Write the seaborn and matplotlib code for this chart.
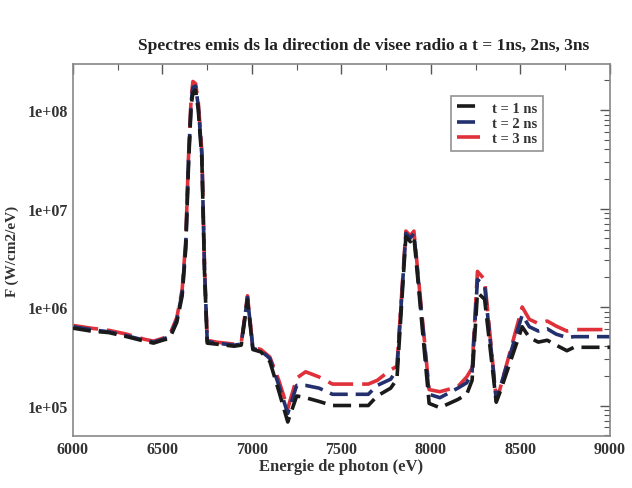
import numpy as np
import pandas as pd
import matplotlib
matplotlib.use("Agg")
import matplotlib.pyplot as plt
import matplotlib.ticker as mticker
import seaborn as sns

sns.set_style("white")
plt.rcParams['font.family'] = ['Liberation Serif', 'DejaVu Serif']

# Photon energy (eV)
energy = [6000, 6100, 6200, 6300, 6400, 6450, 6500, 6540, 6580, 6610, 6630, 6645,
          6660, 6670, 6685, 6700, 6720, 6735, 6750, 6800, 6850, 6900, 6940, 6975,
          7005, 7050, 7100, 7150, 7200, 7250, 7300, 7375, 7450, 7550, 7650, 7700,
          7775, 7810, 7860, 7885, 7905, 7990, 8050, 8150, 8200, 8230, 8260, 8300,
          8365, 8385, 8510, 8550, 8600, 8650, 8700, 8760, 8800, 9000]

# Spectra (W/cm2/eV)
flux_t1 = [6.1e5, 5.7e5, 5.5e5, 5.0e5, 4.5e5, 4.3e5, 4.6e5, 4.8e5, 7.0e5, 1.3e6, 3.9e6, 2.6e7,
           1.1e8, 1.5e8, 1.6e8, 1.0e8, 3.2e7, 2.2e6, 4.3e5, 4.2e5, 4.1e5, 4.0e5, 4.1e5, 1.18e6,
           3.7e5, 3.5e5, 2.8e5, 1.4e5, 6.8e4, 1.25e5, 1.2e5, 1.1e5, 1.0e5, 1.0e5, 1.0e5, 1.25e5,
           1.5e5, 1.85e5, 5.2e6, 4.6e6, 5.2e6, 1.05e5, 9.5e4, 1.15e5, 1.3e5, 1.8e5, 1.4e6, 1.2e6,
           1.08e5, 1.35e5, 6.3e5, 4.9e5, 4.4e5, 4.6e5, 4.1e5, 3.6e5, 3.9e5, 3.9e5]
flux_t2 = [6.3e5, 5.9e5, 5.6e5, 5.1e5, 4.6e5, 4.4e5, 4.7e5, 5.0e5, 7.4e5, 1.4e6, 4.3e6, 2.9e7,
           1.2e8, 1.7e8, 1.75e8, 1.1e8, 3.5e7, 2.4e6, 4.5e5, 4.3e5, 4.2e5, 4.1e5, 4.2e5, 1.25e6,
           3.8e5, 3.6e5, 3.0e5, 1.6e5, 8.3e4, 1.6e5, 1.6e5, 1.5e5, 1.3e5, 1.3e5, 1.3e5, 1.6e5,
           1.85e5, 2.3e5, 5.6e6, 5.0e6, 5.6e6, 1.3e5, 1.2e5, 1.5e5, 1.7e5, 2.2e5, 1.9e6, 1.65e6,
           1.15e5, 1.5e5, 8.3e5, 6.3e5, 5.7e5, 6.0e5, 5.3e5, 4.9e5, 5.0e5, 5.0e5]
flux_t3 = [6.5e5, 6.1e5, 5.8e5, 5.3e5, 4.7e5, 4.5e5, 4.8e5, 5.2e5, 7.8e5, 1.5e6, 4.7e6, 3.2e7,
           1.3e8, 1.95e8, 1.85e8, 1.2e8, 3.8e7, 2.6e6, 4.6e5, 4.4e5, 4.3e5, 4.2e5, 4.3e5, 1.3e6,
           3.9e5, 3.7e5, 3.1e5, 1.8e5, 9.3e4, 1.9e5, 2.2e5, 1.95e5, 1.65e5, 1.65e5, 1.65e5, 1.8e5,
           2.3e5, 2.5e5, 5.9e6, 5.3e6, 5.9e6, 1.45e5, 1.38e5, 1.55e5, 1.95e5, 2.4e5, 2.3e6, 1.9e6,
           1.17e5, 1.45e5, 1.0e6, 7.5e5, 6.8e5, 7.2e5, 6.4e5, 5.7e5, 5.9e5, 5.9e5]

labels = ["t = 1 ns", "t = 2 ns", "t = 3 ns"]
colors = ["#1a1a1a", "#23306e", "#e0303a"]

fig = plt.figure(figsize=(6.32, 4.89), dpi=100)
ax = fig.add_axes([0.1155, 0.1063, 0.8495, 0.7607])

for lab, col, ys, dsh, z in zip(labels, colors, [flux_t1, flux_t2, flux_t3],
                                 [(5, 2.2), (5, 2.2), (7, 2.5)], [3, 2, 1]):
    df = pd.DataFrame({"E": energy, "F": ys})
    sns.lineplot(data=df, x="E", y="F", ax=ax, color=col, linewidth=2.6,
                 label=lab, zorder=z)
    ax.lines[-1].set_dashes(dsh)

ax.set_yscale("log")
ax.set_xlim(6000, 9000)
ax.set_ylim(4.9e4, 2.93e8)
ax.xaxis.set_major_locator(mticker.MultipleLocator(500))
ax.xaxis.set_minor_locator(mticker.MultipleLocator(250))
ax.yaxis.set_major_locator(mticker.LogLocator(base=10, numticks=10))
ax.yaxis.set_minor_locator(mticker.LogLocator(base=10, subs=np.arange(2, 10), numticks=20))
ax.yaxis.set_minor_formatter(mticker.NullFormatter())
ax.yaxis.set_major_formatter(mticker.FuncFormatter(lambda v, p: "1e+%02d" % int(round(np.log10(v)))))

ax.tick_params(which="both", direction="in", top=True, right=True, color="#555555")
ax.tick_params(which="major", length=7, width=1)
ax.tick_params(which="minor", length=4, width=0.8)
for lbl in ax.get_xticklabels() + ax.get_yticklabels():
    lbl.set_fontweight("bold")
    lbl.set_fontsize(11.5)
    lbl.set_color("#333333")
for s in ax.spines.values():
    s.set_color("#888888")
    s.set_linewidth(1.2)

ax.set_xlabel("Energie de photon (eV)", fontsize=12, fontweight="bold", color="#333333", labelpad=1)
ax.set_ylabel("F (W/cm2/eV)", fontsize=11, fontweight="bold", color="#333333")
ax.yaxis.set_label_coords(-0.1, 0.5)
fig.text(0.575, 0.905, "Spectres emis ds la direction de visee radio a t = 1ns, 2ns, 3ns",
         ha="center", va="center", fontsize=12.5, fontweight="bold", color="#222222")

leg = ax.legend(loc="upper left", bbox_to_anchor=(0.69, 0.935), frameon=True,
                fancybox=False, edgecolor="#777777", fontsize=10.5, handlelength=1.6,
                handletextpad=0.8, borderpad=0.4, labelspacing=0.15)
for t in leg.get_texts():
    t.set_fontweight("bold")
    t.set_color("#333333")
leg.get_frame().set_linewidth(1.2)

fig.savefig("out.png", dpi=100, facecolor="white")
